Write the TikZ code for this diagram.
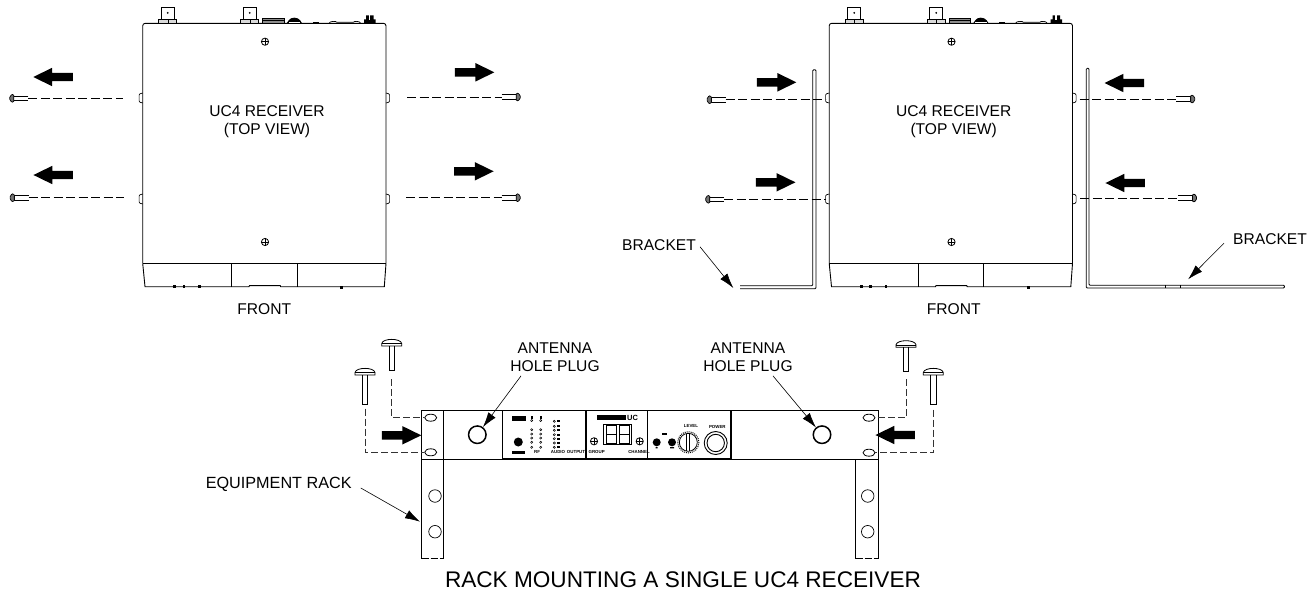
\documentclass[tikz,border=0pt]{standalone}
\usepackage{fontspec}
\setmainfont{Liberation Sans}
\usetikzlibrary{arrows.meta,shapes.geometric,shapes.arrows}

\tikzset{
    pics/crosshead/.style={code={
        \draw [line width=0.8pt] (0,0) circle (3.6);
        \draw [line width=0.7pt] (-3.6,0)--(3.6,0) (0,-3.6)--(0,3.6);
    }},
    pics/sidescrew/.style={code={
        \coordinate (-tip) at (0,0);
        \draw [line width=0.7pt] (0,-2.2)--(-14.5,-2.2)--(-14.5,2.2)--(0,2.2);
        \draw [line width=0.7pt, fill=black!55, rounded corners=1.5pt]
            (-14.5,-4.5)--(-18.5,-2.5)--(-18.5,2.5)--(-14.5,4.5)--cycle;
    }},
    pics/capscrew/.style={code={
        \coordinate (-tip) at (0,#1);
        \draw [line width=0.8pt] (-2.7,0)--(-2.7,#1)--(2.7,#1)--(2.7,0);
        \draw [line width=0.8pt] (-10,0)--(-10,-2.5) .. controls (-9,-8) and (9,-8)
            .. (10,-2.5)--(10,0)--cycle;
        \draw [line width=0.6pt] (-10,-2.5)--(10,-2.5);
    }},
    pics/receiver/.style={code={
        \draw [line width=0.9pt, rounded corners=2.5pt] (0,240)--(0,0)--(243.3,0)--(243.3,240);
        \draw [line width=0.9pt] (0,240)--(243.3,240);
        \draw [line width=0.9pt] (0,240)--(2.3,263.4)--(106.3,263.4)--(106.8,262.3)
            --(137.5,262.3)--(138,263.4)--(241.6,263.4)--(243.3,240);
        \draw [line width=1.3pt] (89,240)--(89,263.4) (154.6,240)--(154.6,263.4);
        \foreach \xdot in {32,41.3,56.6} {
            \fill (\xdot-1.3,262)rectangle(\xdot+1.3,264.4);
        }
        \fill (197.7,263)rectangle(200.3,265.6);
        \foreach \xbnc in {25,107} {
            \draw [line width=0.7pt] (\xbnc-6.5,-4.3) rectangle (\xbnc+6.5,-16);
            \draw [line width=0.7pt, fill=black!15] (\xbnc-9,0) rectangle (\xbnc+9,-4);
            \draw (\xbnc,-4)--(\xbnc,0);
            \fill (\xbnc,-10.5) circle (1);
        }
        \draw [line width=0.7pt, fill=black!45] (120,0) rectangle (141.3,-5);
        \draw [line width=0.7pt] (120,-2.5)--(141.3,-2.5);
        \fill (144,0)--(146,-3) .. controls (148,-6.5) and (155,-6.5) .. (157.5,-3)--(159.3,0)--cycle;
        \fill [white] (146,-1.4) rectangle (157.5,-0.3);
        \fill (170,0) rectangle (176,-1.5);
        \draw [line width=0.7pt] (186.3,0) .. controls (187,-2.4) and (193.6,-2.4) .. (194.3,-1)
            --(210.6,-1) .. controls (211.2,-2.4) and (217.4,-2.4) .. (218,0);
        \fill (221.3,0) rectangle (233,-4) (223.5,-4) rectangle (231,-8);
        \fill [white] (226.2,-8.5) rectangle (227.6,-3);
        \foreach \ybump in {69.7,170.7} {
            \draw [line width=0.7pt, rounded corners=1pt] (0,\ybump)--(-3.6,\ybump+1)
                --(-3.6,\ybump+9)--(0,\ybump+10);
            \draw [line width=0.7pt, rounded corners=1pt] (243.3,\ybump)--(246.9,\ybump+1)
                --(246.9,\ybump+9)--(243.3,\ybump+10);
        }
        \pic at (122.3,18.4) {crosshead};
        \pic at (122.3,218.7) {crosshead};
    }},
}

\begin{document}
\begin{tikzpicture}[x=1pt, y=-1pt,
    label15/.style={inner sep=0pt, align=center, font=\fontsize{15.6}{18.5}\selectfont},
    tiny/.style={inner sep=0pt, font=\fontsize{4.4}{5}\selectfont\bfseries},
    blockarrow/.style={single arrow, fill=black, inner xsep=0pt, inner ysep=4pt, minimum width=18pt,
        minimum height=39.5pt, single arrow head extend=5pt,
        single arrow tip angle=52, single arrow head indent=0pt, anchor=tip},
    blockleft/.style={blockarrow, shape border rotate=180},
    guide/.style={line width=0.7pt, dash pattern=on 9pt off 3.5pt},
    rackguide/.style={line width=0.7pt, black!80, dash pattern=on 7pt off 3pt},
    leader/.style={line width=0.6pt, -{Latex[length=15pt,width=9pt]}},
    hole/.style={circle, draw, line width=0.7pt, minimum size=12.5pt, inner sep=0pt},
    slot/.style={ellipse, draw, line width=0.8pt, minimum width=12pt, minimum height=7pt, inner sep=0pt},
    plug/.style={circle, draw, line width=1.5pt, minimum size=17.5pt, inner sep=0pt},
    ledring/.style={circle, draw, line width=0.5pt, minimum size=2.2pt, inner sep=0pt}]
    \useasboundingbox (0,0) rectangle (1313,592);

    % left receiver
    \pic at (142.7,23.3) {receiver};
    \node [label15] (topL) at (267,121.5) {UC4 RECEIVER\\(TOP VIEW)};
    \node [label15] (frontL) at (264.3,309) {FRONT};

    \node [blockleft] (arrLA) at (32.8,77) {};
    \node [blockleft] (arrLB) at (33,175) {};
    \node [blockarrow] (arrLC) at (494.8,72.3) {};
    \node [blockarrow] (arrLD) at (494.1,171.3) {};

    \pic (scrLA) at (28.3,98.3) {sidescrew};
    \pic (scrLB) at (28.6,197.7) {sidescrew};
    \pic [xscale=-1] (scrLC) at (501.7,97) {sidescrew};
    \pic [xscale=-1] (scrLD) at (501.7,197.7) {sidescrew};
    \coordinate (gapLA) at (123,98.3);
    \coordinate (gapLB) at (124,197.7);
    \coordinate (gapLC) at (407,97);
    \coordinate (gapLD) at (406,197.7);
    \draw [guide] (scrLA-tip)--(gapLA);
    \draw [guide] (scrLB-tip)--(gapLB);
    \draw [guide] (gapLC)--(scrLC-tip);
    \draw [guide] (gapLD)--(scrLD-tip);

    % right receiver with brackets
    \pic at (829.2,23.3) {receiver};
    \node [label15] (topR) at (953.7,121.5) {UC4 RECEIVER\\(TOP VIEW)};
    \node [label15] (frontR) at (953.7,309) {FRONT};

    \draw [line width=0.8pt, rounded corners=1pt] (740.2,285.7)--(812.8,285.7)--(812.8,69.7)
        --(816,69.7)--(816,288.7)--(740.2,288.7);
    \draw [line width=0.8pt, rounded corners=1pt] (1284.5,285.3)--(1089,285.3)--(1089,68.3)
        --(1086.3,68.3)--(1086.3,288)--(1284.5,288)--cycle;
    \draw [line width=0.5pt] (1165.3,285.3)--(1165.3,288) (1179.9,285.3)--(1179.9,288);

    \node [blockarrow] (arrRA) at (796.8,82.3) {};
    \node [blockarrow] (arrRB) at (795.9,182.3) {};
    \node [blockleft] (arrRC) at (1104.1,83) {};
    \node [blockleft] (arrRD) at (1105,183) {};

    \pic (scrRA) at (725.6,99.7) {sidescrew};
    \pic (scrRB) at (724.2,199.3) {sidescrew};
    \pic [xscale=-1] (scrRC) at (1176.2,99) {sidescrew};
    \pic [xscale=-1] (scrRD) at (1178,198) {sidescrew};
    \coordinate (gapRA) at (825.6,99.7);
    \coordinate (gapRB) at (825.6,199.3);
    \coordinate (gapRC) at (1079.5,99);
    \coordinate (gapRD) at (1080.4,198);
    \draw [guide] (scrRA-tip)--(gapRA);
    \draw [guide] (scrRB-tip)--(gapRB);
    \draw [guide] (gapRC)--(scrRC-tip);
    \draw [guide] (gapRD)--(scrRD-tip);

    \node [label15] (brackL) at (659,245.3) {BRACKET};
    \node [label15] (brackR) at (1270,238.7) {BRACKET};
    \coordinate (brackLtip) at (733.3,288);
    \coordinate (brackRtip) at (1188.1,279.3);
    \draw [leader] ([xshift=4pt,yshift=-1.5pt]brackL.east)--(brackLtip);
    \draw [leader] ([xshift=-9pt,yshift=-4.5pt]brackR.west)--(brackRtip);

    % rack panel
    \draw [line width=0.8pt] (421.7,410.7) rectangle (878,459);
    \draw [line width=1.2pt] (421.7,410.7)--(421.7,459);
    \draw [line width=0.8pt] (443.3,410.7)--(443.3,558.5) (421.7,459)--(421.7,558.5);
    \draw [line width=0.8pt] (855.7,459)--(855.7,558.5) (878,459)--(878,558.5);
    \draw [line width=0.8pt, dash pattern=on 7pt off 2pt] (421.7,558.5)--(443.3,558.5);
    \draw [line width=0.8pt, dash pattern=on 7pt off 2pt] (855.7,558.5)--(878,558.5);

    \node [slot] (slotA) at (430.7,417.7) {};
    \node [slot] (slotB) at (430.7,452.3) {};
    \node [slot] (slotC) at (869,417.7) {};
    \node [slot] (slotD) at (869,452.7) {};
    \node [hole] (holeA) at (435,496) {};
    \node [hole] (holeB) at (435,531.7) {};
    \node [hole] (holeC) at (867.7,496) {};
    \node [hole] (holeD) at (867.7,531.7) {};
    \node [plug] (plugL) at (477.3,434.7) {};
    \node [plug] (plugR) at (822,434.7) {};

    \pic (capA) at (391.7,346) {capscrew=24.7};
    \pic (capB) at (365,375) {capscrew=29};
    \pic (capC) at (906,347.3) {capscrew=24.4};
    \pic (capD) at (933.3,375) {capscrew=29};
    \draw [rackguide] ([yshift=-8.6pt]capA-tip) |- (slotA);
    \draw [rackguide] ([yshift=-4.5pt]capB-tip) |- (slotB);
    \draw [rackguide] ([yshift=-7.5pt]capC-tip) |- (slotC);
    \draw [rackguide] ([yshift=-5.5pt]capD-tip) |- (slotD);

    \node [blockarrow] (arrP) at (421.7,435.3) {};
    \node [blockleft] (arrQ) at (875,435) {};

    \node [label15] (antL) at (555,357) {ANTENNA\\HOLE PLUG};
    \node [label15] (antR) at (748,357) {ANTENNA\\HOLE PLUG};
    \draw [leader] ([xshift=-34pt,yshift=-4pt]antL.south)--(plugL);
    \draw [leader] ([xshift=25pt,yshift=-4pt]antR.south)--(plugR);

    \node [label15, font=\fontsize{16.2}{18}\selectfont] (rackL) at (278.7,484) {EQUIPMENT RACK};
    \coordinate (rackLtip) at (420,521.7);
    \draw [leader] ([xshift=9pt,yshift=-4pt]rackL.east)--(rackLtip);

    \node [inner sep=0pt, font=\fontsize{22.6}{24}\selectfont] (title) at (683,580)
        {RACK MOUNTING A SINGLE UC4 RECEIVER};

    % front panel of the receiver
    \draw [line width=1.2pt] (502.3,410.7) rectangle (731,459);
    \draw [line width=1.2pt] (586,410.7)--(586,459) (647.7,410.7)--(647.7,459);

    \fill (511.7,416.3) rectangle (526,421.3);
    \fill (511.7,450.5) rectangle (525,453.5);
    \fill (518.3,442) circle (4.5);
    \foreach \xled in {531.7,540.7} {
        \fill (\xled-1,416) rectangle (\xled+1,418.5);
        \node [ledring] at (\xled,420.5) {};
        \foreach \yled in {429.7,434,438,442.3,447.3} {
            \node [ledring] at (\xled,\yled) {};
        }
    }
    \foreach \yled in {421.3,426.3,430.3,434.7,438.7,443,447.3} {
        \node [ledring] at (554.3,\yled) {};
        \fill (556.5,\yled-1) rectangle (560,\yled+1);
    }
    \node [tiny] (rfL) at (537,452) {RF};
    \node [tiny] (audioL) at (558,452) {AUDIO};
    \node [tiny] (outL) at (576,452) {OUTPUT};

    \fill (597.3,415.3) rectangle (625.7,420.3);
    \node [inner sep=0pt, font=\fontsize{7.5}{8}\selectfont\bfseries] (ucL) at (632.5,418) {UC};
    \draw [line width=0.8pt] (603.3,424) rectangle (631.3,444.7);
    \foreach \xseg in {606.7,619.7} {
        \draw [line width=1pt] (\xseg,425.8) rectangle (\xseg+10,443);
        \draw [line width=1pt] (\xseg,434.4)--(\xseg+10,434.4);
    }
    \pic at (594,441.3) {crosshead};
    \pic at (639.7,441.3) {crosshead};
    \node [tiny] (groupL) at (596.7,451.7) {GROUP};
    \node [tiny] (chanL) at (639,451.7) {CHANNEL};

    \fill (656.7,442.3) circle (4);
    \fill (672,442.3) circle (4);
    \fill (661.5,432.8) rectangle (666.5,434.6);
    \fill (655.7,447) rectangle (657.7,448.3) (670,447) rectangle (674,448.3);
    \draw [line width=1pt, densely dotted] (688.3,442.3) circle (10.6);
    \draw [line width=0.8pt] (688.3,442.3) circle (9);
    \draw [line width=0.8pt] (686.8,433.5)--(686.8,451) (689.8,433.5)--(689.8,451);
    \node [tiny] (levelL) at (691,426.3) {LEVEL};
    \draw [line width=0.9pt] (715.7,443) circle (11.5);
    \draw [line width=0.9pt] (715.7,443) circle (8.7);
    \node [tiny] (powerL) at (717.3,427.3) {POWER};
\end{tikzpicture}
\end{document}
